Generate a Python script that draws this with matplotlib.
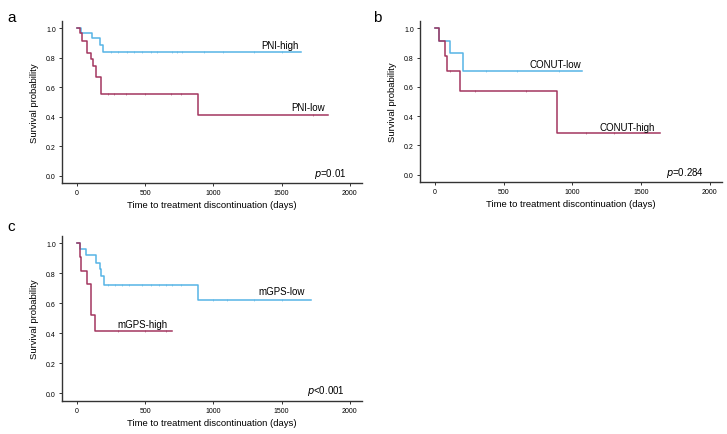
import matplotlib
matplotlib.use('Agg')
import matplotlib.pyplot as plt

plt.rcParams['font.family'] = ['Liberation Sans', 'DejaVu Sans']

BLUE = '#56b4e6'
RED = '#a3365f'

# panel a - PNI
a_high_t = [0, 27, 107, 168, 193, 1645]
a_high_s = [1.0, 0.97, 0.937, 0.89, 0.84, 0.84]
a_high_cens = [250, 300, 370, 420, 480, 540, 590, 700, 730, 770, 930, 1070, 1300, 1500]
a_low_t = [0, 22, 39, 71, 100, 120, 137, 176, 890, 1840]
a_low_s = [1.0, 0.971, 0.914, 0.83, 0.79, 0.745, 0.667, 0.554, 0.414, 0.414]
a_low_cens = [230, 270, 360, 500, 690, 760, 1730]

# panel b - CONUT
b_low_t = [0, 29, 105, 200, 1072]
b_low_s = [1.0, 0.917, 0.83, 0.71, 0.71]
b_low_cens = [370, 600, 900]
b_high_t = [0, 25, 74, 84, 180, 890, 1640]
b_high_s = [1.0, 0.917, 0.81, 0.71, 0.574, 0.285, 0.285]
b_high_cens = [110, 290, 660, 1100, 1300]

# panel c - mGPS
c_low_t = [0, 22, 65, 140, 165, 178, 195, 887, 1716]
c_low_s = [1.0, 0.964, 0.922, 0.868, 0.83, 0.785, 0.722, 0.62, 0.62]
c_low_cens = [230, 280, 330, 380, 480, 540, 600, 650, 700, 760, 1000, 1100, 1300, 1500]
c_high_t = [0, 19, 32, 73, 105, 129, 700]
c_high_s = [1.0, 0.909, 0.818, 0.727, 0.52, 0.415, 0.415]
c_high_cens = [300, 500, 650]


def step_value(t, s, x):
    v = s[0]
    for ti, si in zip(t, s):
        if ti <= x:
            v = si
    return v


def km(ax, t, s, cens, color):
    ax.step(t, s, where='post', color=color, lw=1.1)
    ys = [step_value(t, s, c) for c in cens]
    ax.plot(cens, ys, ls='none', marker='|', ms=1.6, mew=0.5, color=color, alpha=0.8)


def style(ax):
    ax.set_xlim(-110, 2090)
    ax.set_ylim(-0.05, 1.05)
    ax.set_xticks([0, 500, 1000, 1500, 2000])
    ax.set_yticks([0.0, 0.2, 0.4, 0.6, 0.8, 1.0])
    ax.set_yticklabels(['0.0', '0.2', '0.4', '0.6', '0.8', '1.0'])
    for sp in ['top', 'right']:
        ax.spines[sp].set_visible(False)
    for sp in ['left', 'bottom']:
        ax.spines[sp].set_color('#333333')
        ax.spines[sp].set_linewidth(1.0)
    ax.tick_params(labelsize=5, length=2.5, width=0.7, color='#333333', pad=2)
    ax.set_xlabel('Time to treatment discontinuation (days)', fontsize=6.8, labelpad=3)
    ax.set_ylabel('Survival probability', fontsize=6.8, labelpad=5)


fig = plt.figure(figsize=(7.27, 4.35), dpi=100)
ax_a = fig.add_axes([0.0853, 0.577, 0.4127, 0.3724])
ax_b = fig.add_axes([0.5777, 0.5793, 0.4154, 0.370])
ax_c = fig.add_axes([0.0853, 0.0759, 0.4127, 0.3793])

km(ax_a, a_high_t, a_high_s, a_high_cens, BLUE)
km(ax_a, a_low_t, a_low_s, a_low_cens, RED)
style(ax_a)
ax_a.text(1626, 0.885, 'PNI-high', fontsize=7, ha='right', va='center')
ax_a.text(1817, 0.466, 'PNI-low', fontsize=7, ha='right', va='center')
ax_a.text(1978, 0.02, '$p$=0.01', fontsize=7, ha='right', va='center')

km(ax_b, b_low_t, b_low_s, b_low_cens, BLUE)
km(ax_b, b_high_t, b_high_s, b_high_cens, RED)
style(ax_b)
ax_b.text(1066, 0.756, 'CONUT-low', fontsize=7, ha='right', va='center')
ax_b.text(1603, 0.326, 'CONUT-high', fontsize=7, ha='right', va='center')
ax_b.text(1956, 0.02, '$p$=0.284', fontsize=7, ha='right', va='center')

km(ax_c, c_low_t, c_low_s, c_low_cens, BLUE)
km(ax_c, c_high_t, c_high_s, c_high_cens, RED)
style(ax_c)
ax_c.text(1673, 0.68, 'mGPS-low', fontsize=7, ha='right', va='center')
ax_c.text(662, 0.465, 'mGPS-high', fontsize=7, ha='right', va='center')
ax_c.text(1964, 0.02, '$p$<0.001', fontsize=7, ha='right', va='center')

fig.text(0.010, 0.975, 'a', fontsize=11, va='top')
fig.text(0.513, 0.975, 'b', fontsize=11, va='top')
fig.text(0.010, 0.495, 'c', fontsize=11, va='top')

fig.savefig('out.png', dpi=100)
